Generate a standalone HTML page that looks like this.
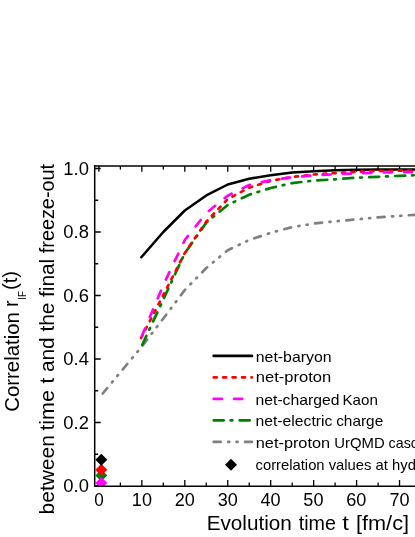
<!DOCTYPE html>
<html><head><meta charset="utf-8">
<style>
html,body{margin:0;padding:0;background:#fff;}
body{width:415px;height:537px;overflow:hidden;font-family:"Liberation Sans",sans-serif;}
svg{display:block}
text{font-family:"Liberation Sans",sans-serif;fill:#000}
.tx{filter:grayscale(1)}
</style></head><body>
<svg width="415" height="537" viewBox="0 0 415 537">
<rect width="415" height="537" fill="#fff"/>
<!-- axes -->
<g stroke="#000" stroke-width="1.6" fill="none">
<path d="M93.95,166.0 H420" stroke-width="1.7"/>
</g>
<path d="M98.90,486 v-5.9 M98.90,166 v5.7 M120.38,486 v-3.6 M120.38,166 v3.4 M141.85,486 v-5.9 M141.85,166 v5.7 M163.32,486 v-3.6 M163.32,166 v3.4 M184.80,486 v-5.9 M184.80,166 v5.7 M206.28,486 v-3.6 M206.28,166 v3.4 M227.75,486 v-5.9 M227.75,166 v5.7 M249.22,486 v-3.6 M249.22,166 v3.4 M270.70,486 v-5.9 M270.70,166 v5.7 M292.18,486 v-3.6 M292.18,166 v3.4 M313.65,486 v-5.9 M313.65,166 v5.7 M335.12,486 v-3.6 M335.12,166 v3.4 M356.60,486 v-5.9 M356.60,166 v5.7 M378.08,486 v-3.6 M378.08,166 v3.4 M399.55,486 v-5.9 M399.55,166 v5.7 M421.02,486 v-3.6 M421.02,166 v3.4 M94.7,486.00 h6.0 M94.7,454.25 h3.5 M94.7,422.50 h6.0 M94.7,390.75 h3.5 M94.7,359.00 h6.0 M94.7,327.25 h3.5 M94.7,295.50 h6.0 M94.7,263.75 h3.5 M94.7,232.00 h6.0 M94.7,200.25 h3.5 M94.7,168.50 h6.0" stroke="#000" stroke-width="1.3" fill="none"/>
<!-- curves -->
<g fill="none" stroke-linejoin="round" stroke-linecap="round" stroke-width="2.7">
<path d="M102.70,393.50 L141.85,346.50 L163.30,318.50 L184.80,290.00 L206.30,268.00 L227.75,250.20 L249.20,240.00 L270.70,232.80 L292.20,227.10 L313.65,223.60 L335.10,221.30 L356.60,219.40 L378.10,217.40 L399.55,215.90 L421.00,214.40" stroke="#808080" stroke-dasharray="7.0,7.5,1.1,7.2,1.1,7.5"/>
<path d="M141.70,346.00 L163.30,299.50 L184.80,253.20 L206.30,222.60 L227.75,204.90 L249.20,194.70 L270.70,188.00 L292.20,183.10 L313.65,180.60 L335.10,179.30 L356.60,177.70 L378.10,176.80 L399.55,175.80 L421.00,175.00" stroke="#008000" stroke-dasharray="10.0,6.9,1.8,7.3" stroke-dashoffset="24.9"/>
<path d="M141.30,257.30 L163.30,232.00 L184.80,210.50 L206.30,195.40 L227.75,184.50 L249.20,178.70 L270.70,175.30 L292.20,172.50 L313.65,171.20 L335.10,170.20 L356.60,169.80 L378.10,169.60 L399.55,169.60 L421.00,169.50" stroke="#000" stroke-width="2.5"/>
<path d="M141.10,338.00 L163.30,295.00 L184.80,253.00 L206.30,221.50 L227.75,199.10 L249.20,187.60 L270.70,180.80 L292.20,177.00 L313.65,174.50 L335.10,173.10 L356.60,171.80 L378.10,171.00 L399.55,170.60 L421.00,170.40" stroke="#ff0000" stroke-dasharray="3.0,6.45"/>
<path d="M141.10,338.00 L163.30,285.00 L184.80,240.00 L206.30,213.00 L227.75,195.70 L249.20,185.00 L270.70,180.20 L292.20,177.30 L313.65,175.40 L335.10,174.30 L356.60,173.30 L378.10,172.60 L399.55,172.20 L421.00,172.00" stroke="#ff00ff" stroke-dasharray="8.2,12.2" stroke-dashoffset="18.1"/>
</g>
<!-- diamonds -->
<clipPath id="pc"><rect x="94" y="164" width="330" height="322.8"/></clipPath>
<g clip-path="url(#pc)">
<path d="M101.3,469.40 l6.0,6.0 l-6.0,6.0 l-6.0,-6.0z" fill="#008000"/>
<path d="M101.3,463.80 l6.0,6.0 l-6.0,6.0 l-6.0,-6.0z" fill="#ff0000"/>
<path d="M101.3,477.00 l6.0,6.0 l-6.0,6.0 l-6.0,-6.0z" fill="#ff00ff"/>
<path d="M101.3,453.80 l6.0,6.0 l-6.0,6.0 l-6.0,-6.0z" fill="#000"/>
</g>
<path d="M94.7,165.2 V486.15 H420" stroke="#000" stroke-width="1.5" fill="none"/>

<!-- legend -->
<g fill="none" stroke-width="2.7" stroke-linecap="round">
<path d="M213.7,355.9 H251.9" stroke="#000"/>
<path d="M213.7,377.4 H251.9" stroke="#ff0000" stroke-dasharray="3.0,6.45"/>
<path d="M213.7,398.85 H251.9" stroke="#ff00ff" stroke-dasharray="8.2,12.2"/>
<path d="M213.7,420.35 H251.9" stroke="#008000" stroke-dasharray="10.0,6.9,1.8,7.3"/>
<path d="M213.7,441.9 H251.9" stroke="#808080" stroke-dasharray="7.0,7.5,1.1,7.2,1.1,7.5"/>
</g>
<path d="M231,458.65 l6,6 l-6,6 l-6,-6z" fill="#000"/>
<g class="tx">
<g font-size="15px" lengthAdjust="spacingAndGlyphs">
<text x="255.8" y="361.7" textLength="75.8" lengthAdjust="spacingAndGlyphs">net-baryon</text>
<text x="255.8" y="382.0" textLength="75.4" lengthAdjust="spacingAndGlyphs">net-proton</text>
<text x="255.5" y="404.6" textLength="84.0" lengthAdjust="spacingAndGlyphs">net-charged</text>
<text x="342.5" y="404.6" textLength="35.4" lengthAdjust="spacingAndGlyphs">Kaon</text>
<text x="255.5" y="425.8" textLength="76.9" lengthAdjust="spacingAndGlyphs">net-electric</text>
<text x="336.2" y="425.8" textLength="47.0" lengthAdjust="spacingAndGlyphs">charge</text>
<text x="255.8" y="447.6" textLength="74.3" lengthAdjust="spacingAndGlyphs">net-proton</text>
<text x="334.3" y="447.6" textLength="50.4" lengthAdjust="spacingAndGlyphs">UrQMD</text>
<text x="388.6" y="447.6" textLength="53.2" lengthAdjust="spacingAndGlyphs">cascade</text>
</g>
<text x="255.5" y="469.5" font-size="14.8px">correlation values at hydro</text>
<!-- tick labels -->
<g font-size="18.4px" text-anchor="middle" lengthAdjust="spacingAndGlyphs">
<text x="99.0" y="505.7" textLength="9.5" lengthAdjust="spacingAndGlyphs">0</text>
<text x="141.9" y="505.7" textLength="20.1" lengthAdjust="spacingAndGlyphs">10</text>
<text x="184.8" y="505.7" textLength="20.1" lengthAdjust="spacingAndGlyphs">20</text>
<text x="227.8" y="505.7" textLength="20.1" lengthAdjust="spacingAndGlyphs">30</text>
<text x="270.6" y="505.7" textLength="20.1" lengthAdjust="spacingAndGlyphs">40</text>
<text x="313.4" y="505.7" textLength="20.1" lengthAdjust="spacingAndGlyphs">50</text>
<text x="356.3" y="505.7" textLength="20.1" lengthAdjust="spacingAndGlyphs">60</text>
<text x="399.6" y="505.7" textLength="20.1" lengthAdjust="spacingAndGlyphs">70</text>
</g>
<g font-size="18.4px" text-anchor="end">
<text x="88.9" y="174.9">1.0</text>
<text x="88.9" y="238.2">0.8</text>
<text x="88.9" y="301.8">0.6</text>
<text x="88.9" y="365.3">0.4</text>
<text x="88.9" y="428.7">0.2</text>
<text x="88.9" y="491.9">0.0</text>
</g>
<g font-size="20px">
<text x="206.7" y="529.7" textLength="85.2" lengthAdjust="spacingAndGlyphs">Evolution</text>
<text x="298.7" y="529.7" textLength="37.2" lengthAdjust="spacingAndGlyphs">time</text>
<text x="342.3" y="529.7" textLength="6.6" lengthAdjust="spacingAndGlyphs">t</text>
<text x="356.0" y="529.7" textLength="53.0" lengthAdjust="spacingAndGlyphs">[fm/c]</text>
</g>
<g transform="translate(18.8,411.7) rotate(-90)" font-size="20px">
<text x="0" y="0" textLength="99.5" lengthAdjust="spacingAndGlyphs">Correlation</text>
<text x="104.6" y="-0.6">r</text>
<text x="112" y="7.3" font-size="10px" textLength="8.6" lengthAdjust="spacingAndGlyphs">IF</text>
<text x="121.6" y="-1.4" textLength="19.2" lengthAdjust="spacingAndGlyphs">(t)</text>
</g>
<g transform="translate(53.6,514.4) rotate(-90)" font-size="20px">
<text x="0" textLength="79.2" lengthAdjust="spacingAndGlyphs">between</text>
<text x="83.8" textLength="40.5" lengthAdjust="spacingAndGlyphs">time</text>
<text x="130.8" textLength="124.8" lengthAdjust="spacingAndGlyphs">t and the final</text>
<text x="261.2" textLength="89.3" lengthAdjust="spacingAndGlyphs">freeze-out</text>
</g>
</g>
</svg>
</body></html>
